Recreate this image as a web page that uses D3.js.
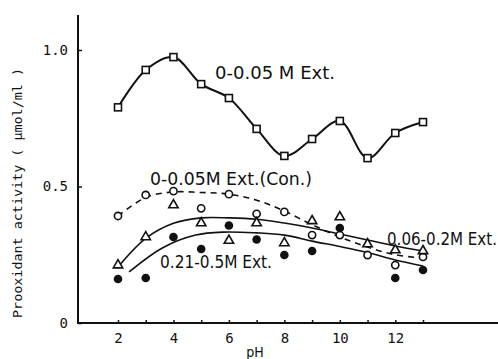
<!DOCTYPE html>
<html>
<head>
<meta charset="utf-8">
<script src="https://cdn.jsdelivr.net/npm/d3@7"></script>
<style>
  body { margin: 0; background: #fff; }
  svg { display: block; }
  .tick text { font-family: "DejaVu Sans Mono", monospace; font-size: 14px; fill: #111; }
</style>
</head>
<body>
<svg id="chart" width="498" height="359"></svg>
<script>
// pH values shared by all series
const pH = [2, 3, 4, 5, 6, 7, 8, 9, 10, 11, 12, 13];

// 0-0.05 M Ext. (open squares, solid line through points)
const ext005 = [0.79, 0.927, 0.974, 0.875, 0.824, 0.711, 0.612, 0.674, 0.74, 0.604, 0.696, 0.736];

// 0-0.05M Ext.(Con.) (open circles, dashed fit)
const conPts = [0.392, 0.469, 0.483, 0.42, 0.472, 0.40, 0.407, 0.322, 0.322, 0.249, 0.212, 0.242];
const conFit = [0.392, 0.46, 0.48, 0.478, 0.472, 0.45, 0.41, 0.36, 0.315, 0.278, 0.25, 0.238];

// 0.06-0.2M Ext. (open triangles, solid fit)
const midPts = [0.212, 0.315, 0.432, 0.366, 0.302, 0.366, 0.293, 0.374, 0.388, 0.289, 0.267, 0.264];
const midFit = [0.205, 0.31, 0.365, 0.385, 0.385, 0.38, 0.366, 0.348, 0.326, 0.304, 0.282, 0.264];

// 0.21-0.5M Ext. (filled circles, solid fit) - no point at pH 11
const highPH  = [2, 3, 4, 5, 6, 7, 8, 9, 10, 12, 13];
const highPts = [0.161, 0.165, 0.315, 0.271, 0.357, 0.306, 0.249, 0.264, 0.348, 0.165, 0.194];
const highFitPH = [2.4, 3.6, 4.8, 5.8, 7, 8, 9, 10, 11, 12, 13];
const highFit   = [0.187, 0.275, 0.322, 0.333, 0.33, 0.322, 0.30, 0.28, 0.258, 0.231, 0.209];

const xTicks = [2, 3, 4, 5, 6, 7, 8, 9, 10, 11, 12, 13];
const yTicks = [0, 0.5, 1.0];

const svg = d3.select("#chart");
const ink = "#111";

const x = d3.scaleLinear().domain([2, 13]).range([118, 423]);
const y = d3.scaleLinear().domain([0, 1]).range([323, 50]);
const axisLeftX = 78;

// x axis
const gx = svg.append("g")
  .attr("transform", `translate(0,${y(0)})`)
  .call(d3.axisBottom(x)
    .tickValues(xTicks)
    .tickSizeInner(-3)
    .tickSizeOuter(0)
    .tickPadding(10)
    .tickFormat(d => d % 2 === 0 ? d : ""));
gx.select(".domain").remove();
gx.selectAll(".tick line").attr("stroke", ink).attr("stroke-width", 1.5);
gx.append("line")
  .attr("x1", axisLeftX).attr("x2", 498)
  .attr("stroke", ink).attr("stroke-width", 2);

// y axis
const gy = svg.append("g")
  .attr("transform", `translate(${axisLeftX},0)`)
  .call(d3.axisLeft(y)
    .tickValues(yTicks)
    .tickSizeInner(-4)
    .tickSizeOuter(0)
    .tickPadding(10)
    .tickFormat(d => d === 0 ? "0" : d3.format(".1f")(d)));
gy.select(".domain").remove();
gy.selectAll(".tick line").attr("stroke", ink).attr("stroke-width", 1.5);
gy.append("line")
  .attr("y1", 15).attr("y2", y(0) + 1)
  .attr("stroke", ink).attr("stroke-width", 2);

// axis titles
svg.append("text")
  .attr("x", 255).attr("y", 357)
  .attr("text-anchor", "middle")
  .style("font-family", "DejaVu Sans Condensed, DejaVu Sans, sans-serif")
  .style("font-size", "14px")
  .attr("fill", ink)
  .text("pH");

svg.append("text")
  .attr("transform", "translate(22,193) rotate(-90)")
  .attr("text-anchor", "middle")
  .attr("textLength", 250)
  .attr("lengthAdjust", "spacingAndGlyphs")
  .style("font-family", "DejaVu Sans Mono, monospace")
  .style("font-size", "13px")
  .attr("fill", ink)
  .text("Prooxidant activity ( \u03bcmol/ml )");

// curves
const line = d3.line().x(d => x(d[0])).y(d => y(d[1]));

svg.append("path")
  .datum(d3.zip(pH, ext005))
  .attr("d", line.curve(d3.curveCatmullRom.alpha(0.5)))
  .attr("fill", "none").attr("stroke", ink).attr("stroke-width", 2);

svg.append("path")
  .datum(d3.zip(pH, conFit))
  .attr("d", line.curve(d3.curveCatmullRom.alpha(0.5)))
  .attr("fill", "none").attr("stroke", ink).attr("stroke-width", 1.6)
  .attr("stroke-dasharray", "6,5");

svg.append("path")
  .datum(d3.zip(pH, midFit))
  .attr("d", line.curve(d3.curveCatmullRom.alpha(0.5)))
  .attr("fill", "none").attr("stroke", ink).attr("stroke-width", 1.6);

svg.append("path")
  .datum(d3.zip(highFitPH, highFit))
  .attr("d", line.curve(d3.curveCatmullRom.alpha(0.5)))
  .attr("fill", "none").attr("stroke", ink).attr("stroke-width", 1.6);

// markers
svg.append("g").selectAll("rect")
  .data(d3.zip(pH, ext005))
  .join("rect")
  .attr("x", d => x(d[0]) - 3.5)
  .attr("y", d => y(d[1]) - 3.5)
  .attr("width", 7).attr("height", 7)
  .attr("fill", "#fff").attr("stroke", ink).attr("stroke-width", 1.6);

svg.append("g").selectAll("circle")
  .data(d3.zip(pH, conPts))
  .join("circle")
  .attr("cx", d => x(d[0]))
  .attr("cy", d => y(d[1]))
  .attr("r", 3.6)
  .attr("fill", "#fff").attr("stroke", ink).attr("stroke-width", 1.6);

const tri = d3.symbol().type(d3.symbolTriangle).size(38);
svg.append("g").selectAll("path")
  .data(d3.zip(pH, midPts))
  .join("path")
  .attr("transform", d => `translate(${x(d[0])},${y(d[1])})`)
  .attr("d", tri)
  .attr("fill", "#fff").attr("stroke", ink).attr("stroke-width", 1.6);

svg.append("g").selectAll("circle")
  .data(d3.zip(highPH, highPts))
  .join("circle")
  .attr("cx", d => x(d[0]))
  .attr("cy", d => y(d[1]))
  .attr("r", 4.3)
  .attr("fill", ink);

// series labels
const labels = [
  { text: "0-0.05 M Ext.", x: 215, y: 79, w: 120 },
  { text: "0-0.05M Ext.(Con.)", x: 150, y: 185, w: 162 },
  { text: "0.06-0.2M Ext.", x: 387, y: 245, w: 110 },
  { text: "0.21-0.5M Ext.", x: 160, y: 268, w: 112 }
];
svg.append("g").selectAll("text")
  .data(labels)
  .join("text")
  .attr("x", d => d.x).attr("y", d => d.y)
  .attr("textLength", d => d.w)
  .attr("lengthAdjust", "spacingAndGlyphs")
  .style("font-family", "DejaVu Sans Condensed, DejaVu Sans, sans-serif")
  .style("font-size", "17px")
  .attr("fill", ink)
  .text(d => d.text);
</script>
</body>
</html>
